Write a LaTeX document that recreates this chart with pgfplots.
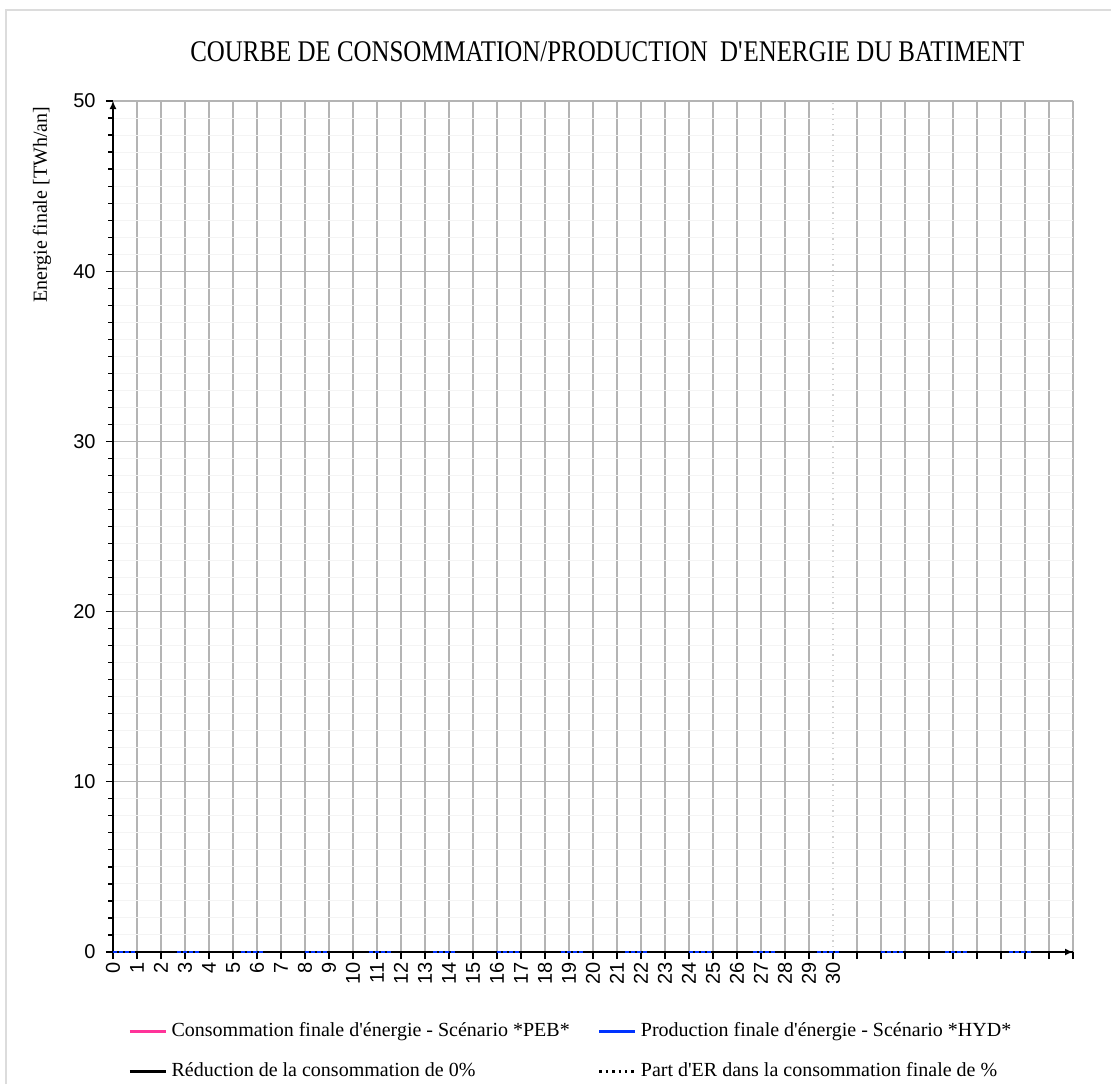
\documentclass[border=0pt]{standalone}
\usepackage{pgfplots}
\pgfplotsset{compat=1.18}
\usepackage{pgfplotstable}
\usepackage{fontspec}
\setmainfont{Liberation Serif}
\setsansfont{Liberation Sans}
\newfontfamily\titlefont[FakeStretch=0.83]{Liberation Serif}
\usetikzlibrary{arrows.meta}

\definecolor{gridgray}{RGB}{180,180,180}
\definecolor{minorgray}{RGB}{244,244,244}
\definecolor{framegray}{RGB}{220,220,220}
\definecolor{pebpink}{RGB}{255,51,153}
\definecolor{hydblue}{RGB}{0,51,255}

% annees 0..40, toutes les series a zero
\pgfplotstableread{
x peb hyd red er
0 0 0 0 0
1 0 0 0 0
2 0 0 0 0
3 0 0 0 0
4 0 0 0 0
5 0 0 0 0
6 0 0 0 0
7 0 0 0 0
8 0 0 0 0
9 0 0 0 0
10 0 0 0 0
11 0 0 0 0
12 0 0 0 0
13 0 0 0 0
14 0 0 0 0
15 0 0 0 0
16 0 0 0 0
17 0 0 0 0
18 0 0 0 0
19 0 0 0 0
20 0 0 0 0
21 0 0 0 0
22 0 0 0 0
23 0 0 0 0
24 0 0 0 0
25 0 0 0 0
26 0 0 0 0
27 0 0 0 0
28 0 0 0 0
29 0 0 0 0
30 0 0 0 0
31 0 0 0 0
32 0 0 0 0
33 0 0 0 0
34 0 0 0 0
35 0 0 0 0
36 0 0 0 0
37 0 0 0 0
38 0 0 0 0
39 0 0 0 0
40 0 0 0 0
}\datatable

\begin{document}
\begin{tikzpicture}
\useasboundingbox (0,0) rectangle (555.5pt,542pt);
\draw[framegray, line width=0.6pt] (3pt,0) -- (3pt,537pt) -- (560pt,537pt);
\begin{axis}[
  at={(56.5pt,66pt)}, anchor=south west,
  scale only axis, width=480pt, height=425.5pt,
  xmin=0, xmax=40, ymin=0, ymax=50,
  clip=false,
  axis lines=left,
  axis line style={black, line width=0.8pt, -{Latex[length=4pt,width=3.5pt]}},
  xtick={0,...,29,31,32,...,40},
  xticklabels={0,1,2,3,4,5,6,7,8,9,10,11,12,13,14,15,16,17,18,19,20,21,22,23,24,25,26,27,28,29,,,,,,,,,,},
  extra x ticks={30},
  extra x tick labels={30},
  extra x tick style={grid=major, major grid style={gridgray!60, dotted, line width=0.6pt}},
  ytick={0,10,...,50},
  minor y tick num=9,
  grid=both,
  major grid style={gridgray, line width=0.6pt},
  minor grid style={minorgray, line width=0.5pt},
  tick align=outside,
  major tick length=3.5pt, minor tick length=2.5pt,
  tick style={black, line width=0.6pt},
  xticklabel style={rotate=90, anchor=east, font=\sffamily\fontsize{10}{12}\selectfont, inner sep=1.5pt},
  yticklabel style={font=\sffamily\fontsize{10}{12}\selectfont, inner sep=1pt, xshift=-4pt},
  /pgf/number format/assume math mode=true,
  ylabel={Energie finale [TWh/an]},
  ylabel style={at={(-0.074,0.878)}, anchor=center, rotate=0, font=\fontsize{10}{12}\selectfont},
  title={\titlefont COURBE DE CONSOMMATION/PRODUCTION\ \ D\textquotesingle ENERGIE DU BATIMENT},
  title style={at={(0.515,1.044)}, anchor=center, font=\fontsize{15}{18}\selectfont},
  legend columns=2,
  legend cell align=left,
  legend style={at={(0.0156,-0.078)}, anchor=north west, draw=none, fill=none,
    font=\fontsize{10}{12}\selectfont, row sep=7.5pt, inner sep=0pt,
    /tikz/every even column/.append style={column sep=12pt}},
  legend image code/.code={\draw[#1] (0pt,0pt) -- (18pt,0pt);},
]
% courbes (toutes a zero)
\addplot[pebpink, line width=0.9pt, forget plot] table[x=x, y=peb] {\datatable};
\addplot[black, line width=1pt, dotted, forget plot] table[x=x, y=er] {\datatable};
\addplot[black, line width=1pt, forget plot] table[x=x, y=red] {\datatable};
\addplot[hydblue, line width=0.8pt, forget plot,
  dash pattern=on 2pt off 1pt on 2pt off 1pt on 2pt off 1pt on 2pt off 21pt] table[x=x, y=hyd] {\datatable};
% legende
\addlegendimage{pebpink, line width=1.6pt}
\addlegendentry{Consommation finale d\textquotesingle énergie - Scénario *PEB*}
\addlegendimage{hydblue, line width=1.6pt}
\addlegendentry{Production finale d\textquotesingle énergie - Scénario *HYD*}
\addlegendimage{black, line width=1.6pt}
\addlegendentry{Réduction de la consommation de 0\%}
\addlegendimage{black, line width=1.2pt, dotted}
\addlegendentry{Part d\textquotesingle ER dans la consommation finale de \%}
\end{axis}
\end{tikzpicture}
\end{document}
